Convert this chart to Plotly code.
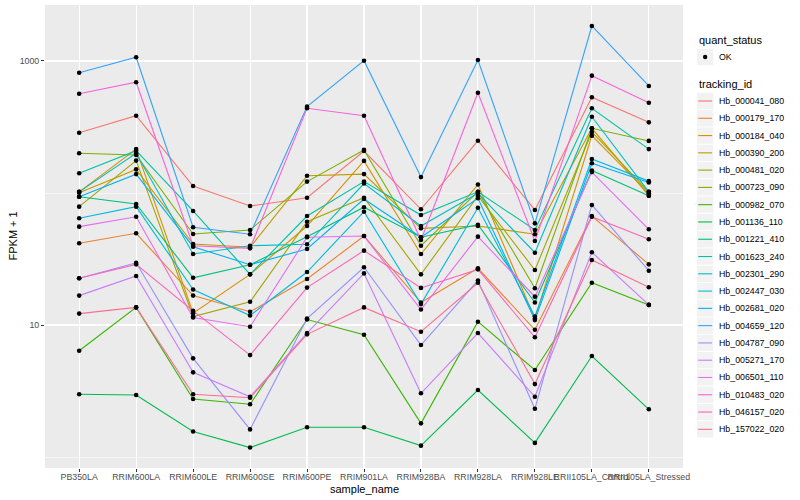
import plotly.graph_objects as go

# ---------------- data ----------------
sample_names = ["PB350LA", "RRIM600LA", "RRIM600LE", "RRIM600SE", "RRIM600PE",
                "RRIM901LA", "RRIM928BA", "RRIM928LA", "RRIM928LE",
                "RRII105LA_Control", "RRII105LA_Stressed"]

tracking_ids = ["Hb_000041_080", "Hb_000179_170", "Hb_000184_040", "Hb_000390_200",
                "Hb_000481_020", "Hb_000723_090", "Hb_000982_070", "Hb_001136_110",
                "Hb_001221_410", "Hb_001623_240", "Hb_002301_290", "Hb_002447_030",
                "Hb_002681_020", "Hb_004659_120", "Hb_004787_090", "Hb_005271_170",
                "Hb_006501_110", "Hb_010483_020", "Hb_046157_020", "Hb_157022_020"]

# FPKM + 1 per sample (same order as sample_names)
hb_000041_080 = [286, 385, 113, 79.7, 92, 208, 75.3, 249, 74.4, 531, 343]
hb_000179_170 = [41.6, 49.5, 16.7, 12.6, 22.3, 47.2, 14.8, 26.9, 9.2, 66.9, 28.8]
hb_000184_040 = [102, 215, 12.3, 24.2, 56.2, 175, 34.5, 116, 11.2, 272, 99.5]
hb_000390_200 = [100.5, 151, 41.1, 38.8, 135, 139, 54, 56.2, 48.7, 309, 95.5]
hb_000481_020 = [78.8, 176, 11.6, 15.0, 60.6, 92, 24.2, 95, 26.1, 290, 102]
hb_000723_090 = [200, 194, 48.9, 52.5, 122, 212, 39.9, 102, 19.0, 309, 248]
hb_000982_070 = [6.38, 13.6, 2.75, 2.51, 11.0, 8.45, 1.80, 10.6, 4.56, 20.9, 14.2]
hb_001136_110 = [2.99, 2.95, 1.56, 1.18, 1.68, 1.68, 1.22, 3.22, 1.28, 5.82, 2.30]
hb_001221_410 = [93.7, 82.6, 22.8, 28.6, 46.7, 78, 46.2, 57.5, 14.8, 148, 95.5]
hb_001623_240 = [141, 209, 73.1, 24.2, 66.9, 122, 68.1, 102, 52.5, 438, 215]
hb_002301_290 = [102, 200, 34.5, 39.9, 40.9, 118, 56.2, 99.5, 35.3, 378, 102]
hb_002447_030 = [64.3, 78.8, 18.6, 11.8, 25.2, 72.2, 14.4, 77.4, 11.6, 181, 123]
hb_002681_020 = [93.7, 139, 39.2, 28.6, 37.7, 90.1, 46.2, 91.2, 10.9, 168, 120]
hb_004659_120 = [815, 1067, 55, 48.7, 451, 1005, 132, 1018, 58.9, 1841, 647]
hb_004787_090 = [22.6, 29.6, 5.59, 1.62, 11.2, 27.4, 7.05, 21.7, 2.32, 81.2, 25.8]
hb_005271_170 = [16.7, 23.5, 4.38, 2.86, 8.7, 24.6, 3.04, 8.7, 2.86, 35.6, 14.2]
hb_006501_110 = [55.6, 66.1, 11.4, 9.7, 46.2, 47.2, 13.1, 46.7, 16.4, 144, 53.1]
hb_010483_020 = [565, 690, 39.9, 38.1, 438, 385, 44.0, 575, 43.3, 774, 483]
hb_046157_020 = [22.6, 28.8, 12.8, 5.92, 19.2, 36.6, 19.1, 26.4, 8.07, 66.1, 44.6]
hb_157022_020 = [12.2, 13.6, 2.99, 2.81, 8.5, 13.6, 8.9, 20.9, 3.57, 31.1, 19.3]

series = [hb_000041_080, hb_000179_170, hb_000184_040, hb_000390_200, hb_000481_020,
          hb_000723_090, hb_000982_070, hb_001136_110, hb_001221_410, hb_001623_240,
          hb_002301_290, hb_002447_030, hb_002681_020, hb_004659_120, hb_004787_090,
          hb_005271_170, hb_006501_110, hb_010483_020, hb_046157_020, hb_157022_020]

quant_status = ["OK"]

y_tick_vals = [10, 1000]
y_tick_text = ["10", "1000"]
y_minor_vals = [1, 100]

# ---------------- style ----------------
colors = ["#F8766D", "#EA8331", "#D89000", "#C09B00", "#A3A500", "#7CAE00", "#39B600",
          "#00BB4E", "#00BF7D", "#00C1A3", "#00BFC4", "#00BAE0", "#00B0F6", "#35A2FF",
          "#9590FF", "#C77CFF", "#E76BF3", "#FA62DB", "#FF62BC", "#FF6C91"]

FONT = "Liberation Sans, Arial, sans-serif"
W, H = 800, 500
L, R, T, B = 45, 117, 5, 32
PW, PH = W - L - R, H - T - B


def px(x):
    return (x - L) / PW


def py(y):
    return (H - B - y) / PH


fig = go.Figure()
for tid, vals, col in zip(tracking_ids, series, colors):
    fig.add_trace(go.Scatter(x=sample_names, y=vals, mode="lines", name=tid,
                             line=dict(color=col, width=1.1), showlegend=False))
for tid, vals in zip(tracking_ids, series):
    fig.add_trace(go.Scatter(x=sample_names, y=vals, mode="markers", name=tid,
                             marker=dict(color="black", size=4.6, line=dict(width=0)),
                             showlegend=False))

shapes = []
annotations = []

# axis titles
annotations.append(dict(x=0.5, y=py(488.5), xref="paper", yref="paper", text="sample_name",
                        showarrow=False, xanchor="center", yanchor="middle",
                        font=dict(family=FONT, size=11, color="black")))
annotations.append(dict(x=px(12), y=0.5, xref="paper", yref="paper", text="FPKM + 1",
                        showarrow=False, textangle=-90, xanchor="center", yanchor="middle",
                        font=dict(family=FONT, size=11, color="black")))

# legend: quant_status
lx = 697
kw = 16.3
annotations.append(dict(x=px(lx), y=py(40.5), xref="paper", yref="paper", text="quant_status",
                        showarrow=False, xanchor="left", yanchor="middle",
                        font=dict(family=FONT, size=11, color="black")))
for i, q in enumerate(quant_status):
    cy = 57 + i * 17.28
    shapes.append(dict(type="rect", xref="paper", yref="paper",
                       x0=px(lx), x1=px(lx + kw), y0=py(cy - kw / 2), y1=py(cy + kw / 2),
                       fillcolor="#F2F2F2", line=dict(width=0), layer="above"))
    shapes.append(dict(type="circle", xref="paper", yref="paper",
                       x0=px(lx + kw / 2 - 2.2), x1=px(lx + kw / 2 + 2.2),
                       y0=py(cy - 2.2), y1=py(cy + 2.2),
                       fillcolor="black", line=dict(width=0), layer="above"))
    annotations.append(dict(x=px(717), y=py(cy), xref="paper", yref="paper", text=q,
                            showarrow=False, xanchor="left", yanchor="middle",
                            font=dict(family=FONT, size=8.8, color="black")))

# legend: tracking_id
annotations.append(dict(x=px(lx), y=py(84), xref="paper", yref="paper", text="tracking_id",
                        showarrow=False, xanchor="left", yanchor="middle",
                        font=dict(family=FONT, size=11, color="black")))
for i, (tid, col) in enumerate(zip(tracking_ids, colors)):
    cy = 101 + i * 17.28
    shapes.append(dict(type="rect", xref="paper", yref="paper",
                       x0=px(lx), x1=px(lx + kw), y0=py(cy - kw / 2), y1=py(cy + kw / 2),
                       fillcolor="#F2F2F2", line=dict(width=0), layer="above"))
    shapes.append(dict(type="line", xref="paper", yref="paper",
                       x0=px(lx + 1.2), x1=px(lx + kw - 1.2), y0=py(cy), y1=py(cy),
                       line=dict(color=col, width=1.1), layer="above"))
    annotations.append(dict(x=px(717), y=py(cy), xref="paper", yref="paper", text=tid,
                            showarrow=False, xanchor="left", yanchor="middle",
                            font=dict(family=FONT, size=8.8, color="black")))

fig.update_layout(
    width=W, height=H,
    margin=dict(l=L, r=R, t=T, b=B, pad=0),
    paper_bgcolor="white", plot_bgcolor="#EBEBEB",
    font=dict(family=FONT, size=8.8, color="#4D4D4D"),
    showlegend=False,
    shapes=shapes, annotations=annotations,
    xaxis=dict(type="category", categoryorder="array", categoryarray=sample_names,
               range=[-0.6, len(sample_names) - 0.4], showgrid=True, gridcolor="white",
               gridwidth=1.1, zeroline=False, showline=False, ticks="outside",
               ticklen=3, tickwidth=1, tickcolor="#333333", tickangle=0,
               ticklabelstandoff=-3,
               tickfont=dict(family=FONT, size=8.8, color="#4D4D4D"), fixedrange=True),
    yaxis=dict(type="log", range=[-0.083, 3.424], tickmode="array", tickvals=y_tick_vals,
               ticktext=y_tick_text, showgrid=True, gridcolor="white", gridwidth=1.1,
               zeroline=False, showline=False, ticks="outside", ticklen=3, tickwidth=1,
               tickcolor="#333333", tickfont=dict(family=FONT, size=8.8, color="#4D4D4D"),
               minor=dict(tickmode="array", tickvals=y_minor_vals, showgrid=True,
                          gridcolor="white", gridwidth=0.55, ticks=""),
               fixedrange=True),
)

fig.write_html("out.html", config={"displayModeBar": False, "staticPlot": True},
               post_script="document.body.style.margin='0';document.body.style.overflow='hidden';")
